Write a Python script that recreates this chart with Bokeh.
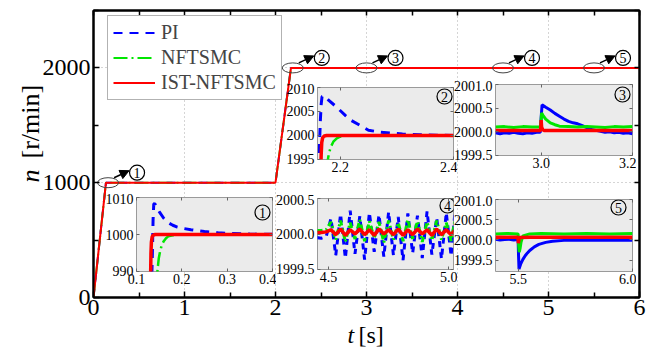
import numpy as np
from bokeh.plotting import figure
from bokeh.models import (Range1d, FixedTicker, LinearAxis, Arrow, NormalHead,
                          Legend, LegendItem, PrintfTickFormatter)
from bokeh.embed import file_html
from bokeh.resources import INLINE
from bokeh.core.properties import value

# ---------------- data ----------------
# main plot
main_t = [0.0, 0.137, 2.0, 2.17, 6.0]
main_pi = [0, 1000, 1000, 2000, 2000]
main_nf = [0, 1000, 1000, 2000, 2000]
main_ist = [0, 1000, 1000, 2000, 2000]
x_major = [0, 1, 2, 3, 4, 5, 6]
x_minor = [0.5, 1.5, 2.5, 3.5, 4.5, 5.5]
y_major = [0, 1000, 2000]
y_minor = [500, 1500, 2500]
ev_t = [0.16, 2.19, 3.0, 4.5, 5.5]
ev_n = [1000, 2000, 2000, 2000, 2000]
ev_tag = ["1", "2", "3", "4", "5"]
series_names = ["PI", "NFTSMC", "IST-NFTSMC"]

# inset 1 (0.1 - 0.4 s)
t1_pi = [0.133, 0.135, 0.1365, 0.138, 0.14, 0.15, 0.16, 0.17, 0.18, 0.19, 0.2, 0.22, 0.25, 0.28, 0.31, 0.35, 0.4]
pi1 = [985, 995, 1004, 1008.2, 1008.4, 1006.2, 1004.4, 1003.2, 1002.5, 1002.0, 1001.7, 1001.3, 1000.8, 1000.45, 1000.25, 1000.12, 1000.05]
t1_nf = [0.144, 0.146, 0.149, 0.152, 0.156, 0.16, 0.165, 0.17, 0.18, 0.2, 0.4]
nf1 = [985, 990, 993.5, 995.5, 997.2, 998.2, 999.0, 999.5, 999.8, 1000.0, 1000.0]
t1_ist = [0.130, 0.1312, 0.1318, 0.1328, 0.1345, 0.137, 0.141, 0.4]
ist1 = [985, 990, 995, 998, 999.4, 999.85, 1000, 1000]

# inset 2 (2.16 - 2.4 s)
t2_pi = [2.162, 2.1635, 2.165, 2.1665, 2.168, 2.172, 2.18, 2.19, 2.2, 2.21, 2.22, 2.235, 2.25, 2.27, 2.29, 2.31, 2.34, 2.37, 2.4]
pi2 = [1993, 1998, 2003, 2006.5, 2008.1, 2008.3, 2007.3, 2006.3, 2005.2, 2004.1, 2003.1, 2002.1, 2001.1, 2000.7, 2000.5, 2000.3, 2000.15, 2000.05, 2000.0]
t2_nf = [2.176, 2.179, 2.183, 2.188, 2.194, 2.2, 2.21, 2.4]
nf2 = [1993, 1995.5, 1997.5, 1998.7, 1999.4, 1999.75, 2000, 2000]
t2_ist = [2.1655, 2.1665, 2.1675, 2.169, 2.172, 2.176, 2.4]
ist2 = [1992, 1996, 1998.5, 1999.5, 1999.9, 2000, 2000]

# inset 3 (2.9 - 3.2 s)
t3_pi = [2.90, 2.91, 2.92, 2.93, 2.94, 2.95, 2.96, 2.97, 2.98, 2.99, 2.998, 3.000, 3.002, 3.01, 3.02, 3.03, 3.04,
         3.05, 3.06, 3.07, 3.08, 3.09, 3.10, 3.11, 3.12, 3.13, 3.14, 3.15, 3.16, 3.17, 3.18, 3.19, 3.20]
pi3 = [1999.98, 1999.96, 1999.98, 1999.97, 1999.99, 1999.97, 1999.96, 1999.98, 1999.97, 1999.99, 1999.99, 2000.30,
       2000.57, 2000.52, 2000.46, 2000.39, 2000.33, 2000.27, 2000.22, 2000.19, 2000.17, 2000.13, 2000.09, 2000.05,
       2000.03, 2000.01, 1999.99, 2000.00, 1999.98, 1999.99, 1999.97, 1999.98, 1999.96]
t3_nf = [2.90, 2.92, 2.94, 2.96, 2.98, 2.999, 3.001, 3.004, 3.01, 3.02, 3.03, 3.04, 3.06, 3.08, 3.10, 3.12, 3.14, 3.16, 3.18, 3.20]
nf3 = [2000.10, 2000.11, 2000.09, 2000.11, 2000.10, 2000.10, 2000.40, 2000.35, 2000.27, 2000.19, 2000.15, 2000.12,
       2000.11, 2000.10, 2000.11, 2000.10, 2000.09, 2000.11, 2000.10, 2000.11]
t3_ist = [2.90, 2.95, 2.999, 3.000, 3.001, 3.003, 3.006, 3.05, 3.10, 3.15, 3.20]
ist3 = [2000.03, 2000.03, 2000.03, 2000.25, 2000.10, 2000.05, 2000.03, 2000.03, 2000.03, 2000.03, 2000.03]

# inset 4 (4.45 - 5.02 s)
t4 = [4.45, 4.47, 4.49, 4.51, 4.53, 4.55, 4.57, 4.59, 4.61, 4.63, 4.65, 4.67, 4.69, 4.71, 4.73, 4.75, 4.77, 4.79,
      4.81, 4.83, 4.85, 4.87, 4.89, 4.91, 4.93, 4.95, 4.97, 4.99, 5.01, 5.025]
pi4 = [1999.95, 1999.94, 1999.96, 2000.22, 1999.70, 2000.28, 1999.66, 2000.33, 1999.72, 2000.25, 1999.64, 2000.30,
       1999.75, 2000.27, 1999.68, 2000.31, 1999.70, 2000.24, 1999.63, 2000.29, 1999.73, 2000.26, 1999.66, 2000.32,
       1999.71, 2000.23, 1999.65, 2000.30, 1999.69, 2000.27]
nf4 = [2000.05, 2000.05, 2000.06, 2000.17, 1999.92, 2000.19, 1999.89, 2000.16, 1999.93, 2000.20, 1999.90, 2000.18,
       1999.94, 2000.17, 1999.88, 2000.19, 1999.92, 2000.16, 1999.90, 2000.20, 1999.93, 2000.18, 1999.89, 2000.17,
       1999.91, 2000.19, 1999.92, 2000.16, 1999.90, 2000.18]
ist4 = [2000.02, 2000.02, 2000.03, 2000.06, 1999.99, 2000.07, 1999.98, 2000.06, 2000.00, 2000.07, 1999.99, 2000.06,
        1999.98, 2000.07, 2000.00, 2000.06, 1999.99, 2000.07, 1999.98, 2000.06, 1999.99, 2000.07, 2000.00, 2000.06,
        1999.98, 2000.07, 1999.99, 2000.06, 1999.99, 2000.05]

# inset 5 (5.4 - 6.0 s)
t5_pi = [5.40, 5.42, 5.44, 5.46, 5.48, 5.499, 5.501, 5.503, 5.51, 5.52, 5.53, 5.54, 5.55, 5.57, 5.59, 5.62, 5.65,
         5.70, 5.75, 5.80, 5.85, 5.90, 5.95, 6.00]
pi5 = [2000.02, 2000.00, 2000.01, 2000.02, 2000.00, 2000.01, 1999.60, 1999.28, 1999.40, 1999.52, 1999.61, 1999.68,
       1999.74, 1999.83, 1999.89, 1999.94, 1999.97, 1999.99, 2000.00, 1999.99, 2000.00, 1999.99, 2000.00, 1999.99]
t5_nf = [5.40, 5.45, 5.499, 5.501, 5.504, 5.508, 5.512, 5.52, 5.55, 5.60, 5.70, 5.80, 5.90, 6.00]
nf5 = [2000.15, 2000.16, 2000.15, 1999.90, 1999.70, 1999.80, 1999.95, 2000.10, 2000.15, 2000.16, 2000.15, 2000.16, 2000.15, 2000.16]
t5_ist = [5.40, 5.45, 5.499, 5.500, 5.502, 5.505, 5.55, 5.60, 5.70, 5.80, 5.90, 6.00]
ist5 = [2000.07, 2000.07, 2000.07, 1999.92, 1999.98, 2000.06, 2000.07, 2000.07, 2000.07, 2000.07, 2000.07, 2000.07]

# ---------------- style ----------------
FONT = "Liberation Serif"
BLUE = "#0000ff"
GREEN = "#00e600"
RED = "#ff0000"
DASH_PI = "9 7"
DASH_NF = "14 4 2 4"

W, H = 654, 349
BL, BR, BT, BB = 93, 15, 10, 52
FW, FH = W - BL - BR, H - BT - BB

p = figure(width=W, height=H, x_range=Range1d(0, 6), y_range=Range1d(0, 2500),
           output_backend="svg", toolbar_location=None,
           min_border_left=BL, min_border_right=BR, min_border_top=BT, min_border_bottom=BB,
           background_fill_color="white", border_fill_color="white")
p.styles = {"position": "absolute", "left": "0px", "top": "0px"}
p.outline_line_color = "black"
p.outline_line_width = 2

xt = FixedTicker(ticks=x_major, minor_ticks=x_minor)
yt = FixedTicker(ticks=y_major, minor_ticks=y_minor)


def style_axis(ax, size):
    ax.axis_line_color = "black"
    ax.axis_line_width = 2
    ax.major_tick_in = 6
    ax.major_tick_out = 0
    ax.minor_tick_in = 5
    ax.minor_tick_out = 0
    ax.major_tick_line_width = 1.5
    ax.minor_tick_line_width = 1.5
    ax.major_tick_line_color = "black"
    ax.minor_tick_line_color = "black"
    ax.major_label_text_font = FONT
    ax.major_label_text_font_size = size
    ax.major_label_text_color = "black"
    ax.major_label_standoff = 3


p.xaxis.ticker = xt
p.yaxis.ticker = yt
style_axis(p.xaxis[0], "24px")
style_axis(p.yaxis[0], "24px")
p.xaxis.major_label_standoff = 2

# mirrored ticks (no labels): only minor ticks on these axes
xt_m = FixedTicker(ticks=[], minor_ticks=x_major + x_minor)
yt_m = FixedTicker(ticks=[], minor_ticks=y_major + y_minor)
for loc, tk in (("above", xt_m), ("right", yt_m)):
    a = LinearAxis(ticker=tk)
    a.axis_line_color = "black"
    a.axis_line_width = 2
    a.major_tick_in = 0
    a.major_tick_out = 0
    a.minor_tick_in = 5
    a.minor_tick_out = 0
    a.minor_tick_line_width = 1.5
    a.minor_tick_line_color = "black"
    p.add_layout(a, loc)

p.xgrid.ticker = FixedTicker(ticks=x_major)
p.ygrid.ticker = FixedTicker(ticks=y_major)
for g in (p.xgrid[0], p.ygrid[0]):
    g.grid_line_color = "#aaaaaa"
    g.grid_line_dash = "1 3"
    g.grid_line_width = 1

r_pi = p.line(main_t, main_pi, line_color=BLUE, line_dash=DASH_PI, line_width=2)
r_nf = p.line(main_t, main_nf, line_color=GREEN, line_dash=DASH_NF, line_width=2)
r_ist = p.line(main_t, main_ist, line_color=RED, line_width=2)

legend = Legend(items=[LegendItem(label=series_names[0], renderers=[r_pi]),
                       LegendItem(label=series_names[1], renderers=[r_nf]),
                       LegendItem(label=series_names[2], renderers=[r_ist])],
                location=(14, 197))
legend.label_text_font = FONT
legend.label_text_font_size = "20px"
legend.label_height = 21
legend.glyph_height = 21
legend.glyph_width = 42
legend.label_standoff = 6
legend.padding = 5
legend.spacing = 2
legend.margin = 0
legend.border_line_color = "#666666"
legend.border_line_width = 1
legend.background_fill_color = "white"
legend.background_fill_alpha = 1.0
p.add_layout(legend)

# annotations: ellipses, arrows, circled numbers
sx = 6 / FW      # seconds per pixel
sy = 2500 / FH   # r/min per pixel
p.ellipse(x=ev_t, y=ev_n, width=21, height=10, width_units="screen", height_units="screen",
          fill_color=None, line_color="#444444", line_width=1)
for t0, n0 in zip(ev_t, ev_n):
    p.add_layout(Arrow(end=NormalHead(size=9, fill_color="black", line_color="black"),
                       x_start=t0 + 6 * sx, y_start=n0 + 5 * sy,
                       x_end=t0 + 21 * sx, y_end=n0 + 12 * sy,
                       line_color="black", line_width=1.5))
cx = [t0 + 29 * sx for t0 in ev_t]
cy = [n0 + 10 * sy for n0 in ev_n]
p.scatter(cx, cy, marker="circle", size=15, fill_color="white", line_color="black", line_width=1.2)
p.text(cx, cy, text=ev_tag, text_align="center", text_baseline="middle",
       text_font=value(FONT), text_font_size="14px", text_color="black")

# ---------------- axis titles (transparent overlay, pixel coordinates) ----------------
ov = figure(width=W, height=H, x_range=Range1d(0, W), y_range=Range1d(0, H),
            output_backend="svg", toolbar_location=None, min_border=0,
            x_axis_location=None, y_axis_location=None,
            background_fill_alpha=0.0, border_fill_alpha=0.0, outline_line_color=None)
ov.grid.visible = False
ov.styles = {"position": "absolute", "left": "0px", "top": "0px"}
ov.text([30], [H - 182], text=["n"], angle=np.pi / 2, text_align="left", text_baseline="middle",
        text_font=value(FONT), text_font_style="italic", text_font_size="26px", text_color="black")
ov.text([30], [H - 158], text=["[r/min]"], angle=np.pi / 2, text_align="left", text_baseline="middle",
        text_font=value(FONT), text_font_size="26px", text_color="black")
ov.text([347], [H - 334], text=["t"], text_align="left", text_baseline="middle",
        text_font=value(FONT), text_font_style="italic", text_font_size="24px", text_color="black")
ov.text([358], [H - 334], text=["[s]"], text_align="left", text_baseline="middle",
        text_font=value(FONT), text_font_size="24px", text_color="black")

# ---------------- insets ----------------
IL, IR, IT, IB = 50, 4, 4, 22


def make_inset(box, xr, yr, xticks, yticks, xfmt, yfmt, tag, tag_off, series):
    L, T, fw, fh = box
    f = figure(width=IL + fw + IR, height=IT + fh + IB, x_range=Range1d(*xr), y_range=Range1d(*yr),
               output_backend="svg", toolbar_location=None,
               min_border_left=IL, min_border_right=IR, min_border_top=IT, min_border_bottom=IB,
               background_fill_color="#ebebeb", border_fill_alpha=0.0)
    f.styles = {"position": "absolute", "left": f"{L - IL}px", "top": f"{T - IT}px"}
    f.outline_line_color = "#9a9a9a"
    f.outline_line_width = 1
    f.xgrid.visible = False
    f.ygrid.visible = False
    xtk = FixedTicker(ticks=xticks)
    ytk = FixedTicker(ticks=yticks)
    f.xaxis.ticker = xtk
    f.yaxis.ticker = ytk
    f.xaxis.formatter = PrintfTickFormatter(format=xfmt)
    f.yaxis.formatter = PrintfTickFormatter(format=yfmt)
    for ax in (f.xaxis[0], f.yaxis[0]):
        ax.axis_line_color = None
        ax.major_tick_in = 3
        ax.major_tick_out = 0
        ax.minor_tick_in = 0
        ax.minor_tick_out = 0
        ax.major_tick_line_color = "#666666"
        ax.major_label_text_font = FONT
        ax.major_label_text_font_size = "14px"
        ax.major_label_text_color = "black"
    f.xaxis.major_label_standoff = 2
    f.yaxis.major_label_standoff = 3
    for loc, vals in (("above", xticks), ("right", yticks)):
        a = LinearAxis(ticker=FixedTicker(ticks=[], minor_ticks=vals))
        a.axis_line_color = None
        a.major_tick_in = 0
        a.major_tick_out = 0
        a.minor_tick_in = 3
        a.minor_tick_out = 0
        a.minor_tick_line_color = "#666666"
        f.add_layout(a, loc)
    for (tx, ty, color, dash, lw) in series:
        if dash:
            f.line(tx, ty, line_color=color, line_width=lw, line_dash=dash)
        else:
            f.line(tx, ty, line_color=color, line_width=lw)
    dx = (xr[1] - xr[0]) / fw
    dy = (yr[1] - yr[0]) / fh
    tx0 = xr[1] - tag_off[0] * dx
    ty0 = yr[1] - tag_off[1] * dy
    f.scatter([tx0], [ty0], marker="circle", size=15, fill_color=None, line_color="black", line_width=1.2)
    f.text([tx0], [ty0], text=[tag], text_align="center", text_baseline="middle",
           text_font=value(FONT), text_font_size="14px", text_color="black")
    return f


in1 = make_inset((136, 197, 136, 74), (0.0999, 0.4001), (989.99, 1010.01),
                 [0.1, 0.2, 0.3, 0.4], [990, 1000, 1010], "%.1f", "%d", "1", (10, 15),
                 [(t1_pi, pi1, BLUE, DASH_PI, 3), (t1_nf, nf1, GREEN, DASH_NF, 2.5), (t1_ist, ist1, RED, None, 3.5)])
in2 = make_inset((317, 87, 136, 72), (2.16, 2.4001), (1994.99, 2010.0),
                 [2.2, 2.4], [1995, 2000, 2005, 2010], "%.1f", "%d", "2", (9, 9),
                 [(t2_pi, pi2, BLUE, DASH_PI, 3), (t2_nf, nf2, GREEN, DASH_NF, 2.5), (t2_ist, ist2, RED, None, 3.5)])
in3 = make_inset((495, 84, 137, 71), (2.9, 3.2001), (1999.499, 2001.001),
                 [3.0, 3.2], [1999.5, 2000.0, 2000.5, 2001.0], "%.1f", "%.1f", "3", (10, 10),
                 [(t3_pi, pi3, BLUE, None, 3), (t3_nf, nf3, GREEN, None, 3), (t3_ist, ist3, RED, None, 3.5)])
in4 = make_inset((317, 198, 136, 71), (4.454, 5.02), (1999.499, 2000.501),
                 [4.5, 5.0], [1999.5, 2000.0, 2000.5], "%.1f", "%.1f", "4", (6, 7),
                 [(t4, pi4, BLUE, "6 5", 3), (t4, nf4, GREEN, "6 3 2 3", 3), (t4, ist4, RED, None, 3.5)])
in5 = make_inset((495, 199, 137, 72), (5.4, 6.0001), (1999.22, 2001.001),
                 [5.5, 6.0], [1999.5, 2000.0, 2000.5, 2001.0], "%.1f", "%.1f", "5", (14, 8),
                 [(t5_pi, pi5, BLUE, None, 3), (t5_nf, nf5, GREEN, None, 3), (t5_ist, ist5, RED, None, 3.5)])

# separate roots (no frame alignment between them); insets positioned absolutely over the main plot
open("out.html", "w").write(file_html([p, in1, in2, in3, in4, in5, ov], INLINE))
